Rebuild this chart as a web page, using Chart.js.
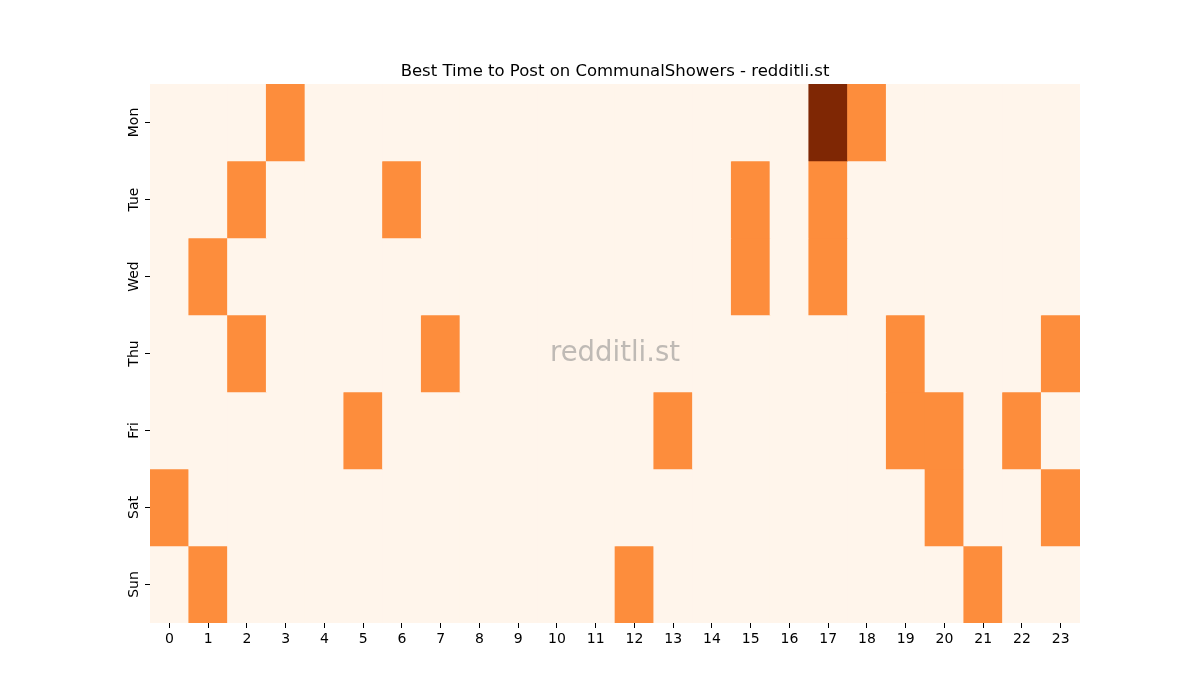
<!DOCTYPE html>
<html>
<head>
<meta charset="utf-8">
<script src="https://cdn.jsdelivr.net/npm/chart.js@4"></script>
<style>
  body { margin: 0; background: #fff; }
  #wrap { width: 1200px; height: 700px; }
</style>
</head>
<body>
<div id="wrap"><canvas id="heat"></canvas></div>
<script>
// hours along the bottom, days down the side
const hours = ["0","1","2","3","4","5","6","7","8","9","10","11","12","13","14","15","16","17","18","19","20","21","22","23"];
const days = ["Mon", "Tue", "Wed", "Thu", "Fri", "Sat", "Sun"];

// post counts per day, one value per hour
const mon = [0,0,0,1,0,0,0,0,0,0,0,0,0,0,0,0,0,2,1,0,0,0,0,0];
const tue = [0,0,1,0,0,0,1,0,0,0,0,0,0,0,0,1,0,1,0,0,0,0,0,0];
const wed = [0,1,0,0,0,0,0,0,0,0,0,0,0,0,0,1,0,1,0,0,0,0,0,0];
const thu = [0,0,1,0,0,0,0,1,0,0,0,0,0,0,0,0,0,0,0,1,0,0,0,1];
const fri = [0,0,0,0,0,1,0,0,0,0,0,0,0,1,0,0,0,0,0,1,1,0,1,0];
const sat = [1,0,0,0,0,0,0,0,0,0,0,0,0,0,0,0,0,0,0,0,1,0,0,1];
const sun = [0,1,0,0,0,0,0,0,0,0,0,0,1,0,0,0,0,0,0,0,0,1,0,0];
const counts = [mon, tue, wed, thu, fri, sat, sun];

// Oranges colormap, 0..2
const palette = ["#fff5eb", "#fd8d3c", "#7f2704"];

const datasets = counts.map((row, i) => ({
  label: days[i],
  data: row.map(() => 1), // each cell is one unit tall
  backgroundColor: row.map(v => palette[v]),
  borderWidth: 0,
  barPercentage: 1.0,
  categoryPercentage: 1.0,
  stack: "days",
}));

// title, watermark and the rotated day labels
const extras = {
  id: "extras",
  afterDatasetsDraw(chart) {
    const { ctx, chartArea: a } = chart;
    const y = chart.scales.y;
    ctx.save();
    ctx.fillStyle = "rgba(128,128,128,0.5)";
    ctx.font = "27.5px 'DejaVu Sans'";
    ctx.textAlign = "center";
    ctx.textBaseline = "middle";
    ctx.fillText("redditli.st", (a.left + a.right) / 2, (a.top + a.bottom) / 2);

    ctx.fillStyle = "#000";
    ctx.font = "16.5px 'DejaVu Sans'";
    ctx.textBaseline = "alphabetic";
    ctx.fillText("Best Time to Post on CommunalShowers - redditli.st", (a.left + a.right) / 2, a.top - 8);

    // day names, reading bottom to top, centred on each tick
    ctx.font = "14px 'DejaVu Sans'";
    ctx.textBaseline = "bottom";
    days.forEach((d, i) => {
      const py = y.getPixelForValue(i + 0.5);
      ctx.save();
      ctx.translate(a.left - 9, py);
      ctx.rotate(-Math.PI / 2);
      ctx.fillText(d, 0, 0);
      ctx.restore();
    });
    ctx.restore();
  }
};

const ctx = document.getElementById("heat").getContext("2d");
new Chart(ctx, {
  type: "bar",
  data: { labels: hours, datasets: datasets },
  options: {
    responsive: true,
    maintainAspectRatio: false,
    animation: false,
    layout: { padding: { left: 120, right: 120, top: 84, bottom: 47 } },
    plugins: { legend: { display: false }, tooltip: { enabled: false } },
    scales: {
      x: {
        stacked: true,
        grid: { display: true, drawOnChartArea: false, offset: false, tickLength: 5, color: "#000" },
        border: { display: false },
        ticks: { color: "#000", font: { family: "DejaVu Sans", size: 14 }, padding: 3, maxRotation: 0 },
        afterFit(s) { s.height = 30; },
      },
      y: {
        stacked: true,
        reverse: true,
        min: 0,
        max: 7,
        grid: { display: true, drawOnChartArea: false, tickLength: 5, color: "#000" },
        border: { display: false },
        afterBuildTicks(s) { s.ticks = days.map((d, i) => ({ value: i + 0.5 })); },
        ticks: {
          color: "rgba(0,0,0,0)",
          font: { family: "DejaVu Sans", size: 14 },
          callback: (v) => days[Math.floor(v)],
        },
        afterFit(s) { s.width = 30; },
      },
    },
  },
  plugins: [extras],
});
</script>
</body>
</html>
